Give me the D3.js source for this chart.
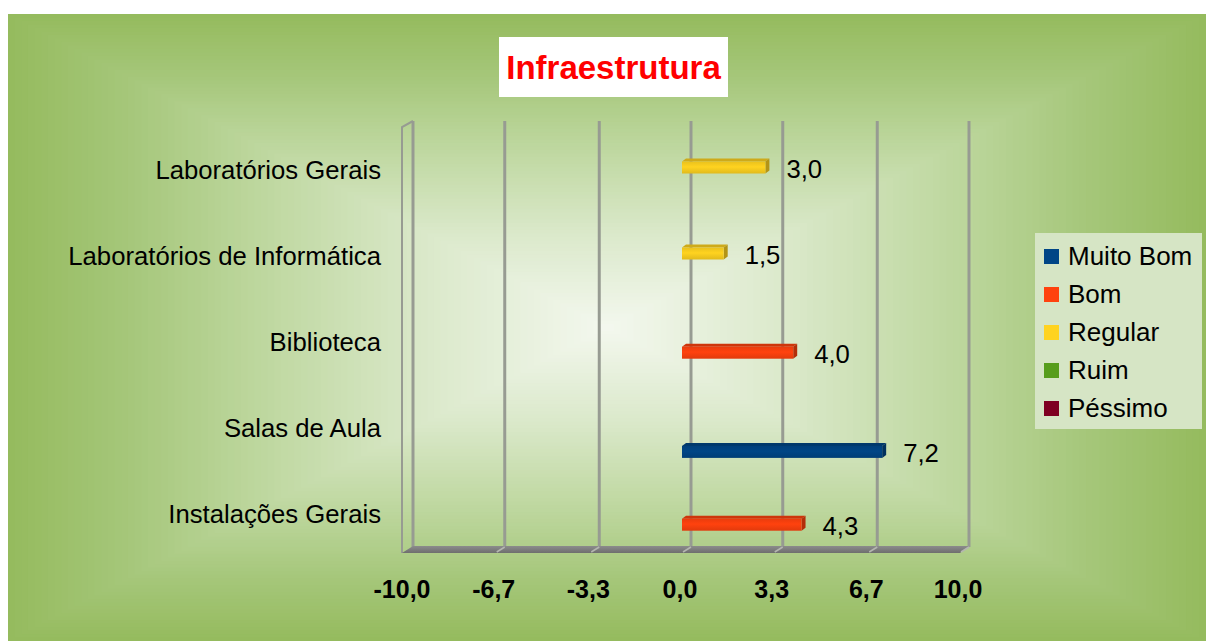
<!DOCTYPE html>
<html>
<head>
<meta charset="utf-8">
<script src="https://cdnjs.cloudflare.com/ajax/libs/d3/7.8.5/d3.min.js"></script>
<style>
  html, body { margin: 0; padding: 0; background: #fff; }
  svg text { font-family: "Liberation Sans", Arial, sans-serif; }
</style>
</head>
<body>
<div id="chart"></div>
<script>

// data
var categories = ['Laboratórios Gerais', 'Laboratórios de Informática', 'Biblioteca', 'Salas de Aula', 'Instalações Gerais'];
var seriesNames = ['Muito Bom', 'Bom', 'Regular', 'Ruim', 'Péssimo'];
var muitoBom = [0, 0, 0, 7.2, 0];
var bom = [0, 0, 4.0, 0, 4.3];
var regular = [3.0, 1.5, 0, 0, 0];
var ruim = [0, 0, 0, 0, 0];
var pessimo = [0, 0, 0, 0, 0];
var xTicks = [-10, -6.7, -3.3, 0, 3.3, 6.7, 10];
var seriesColors = ['#004586', '#ff420e', '#ffd320', '#579d1c', '#7e0021'];
var chartTitle = 'Infraestrutura';

function renderChart(params) {

  var attrs = {
    svgWidth: 1206,
    svgHeight: 641,
    container: 'body'
  };
  Object.keys(attrs).forEach(function (key) {
    if (params && params[key]) attrs[key] = params[key];
  });

  var seriesValues = [muitoBom, bom, regular, ruim, pessimo];

  //calculated properties
  var calc = {};
  calc.bgLeft = 8;
  calc.bgTop = 14;
  calc.plotTop = 121;
  calc.floorBack = 546;
  calc.floorFront = 553;
  calc.depthX = 9;   // 3d offset of the back wall
  calc.barDepth = 4;

  var svg = d3.select(attrs.container).append('svg')
    .attr('width', attrs.svgWidth)
    .attr('height', attrs.svgHeight);

  var defs = svg.append('defs');

  // ---------- background: rectangular gradient done with nested rects
  var bgW = attrs.svgWidth - calc.bgLeft;
  var bgH = attrs.svgHeight - calc.bgTop;
  var cx = calc.bgLeft + bgW / 2;
  var cy = calc.bgTop + bgH / 2;
  var ramp = d3.scaleLinear()
    .domain([0, 0.3, 0.6, 0.8, 1])
    .range(['#f4f8ef', '#dbe9cb', '#bcd69c', '#a6c77b', '#95bb5e'])
    .interpolate(d3.interpolateRgb);
  var steps = d3.range(90, 0, -1).map(function (k) { return k / 90; });
  svg.append('g').attr('class', 'background')
    .selectAll('rect').data(steps).join('rect')
    .attr('x', function (t) { return cx - t * bgW / 2; })
    .attr('y', function (t) { return cy - t * bgH / 2; })
    .attr('width', function (t) { return t * bgW; })
    .attr('height', function (t) { return t * bgH; })
    .attr('fill', function (t) { return ramp(t); });

  // ---------- scales
  var x = d3.scaleLinear().domain([-10, 10]).range([404, 960]);
  var y = d3.scaleBand().domain(categories).range([127, 557]);
  var ySeries = d3.scaleBand().domain(seriesNames.slice().reverse()).range([-37, 29]);

  var chart = svg.append('g').attr('class', 'chart');

  // gridlines on back wall
  chart.append('g').attr('class', 'grid')
    .selectAll('line').data(xTicks).join('line')
    .attr('x1', function (d) { return x(d) + calc.depthX; })
    .attr('x2', function (d) { return x(d) + calc.depthX; })
    .attr('y1', calc.plotTop)
    .attr('y2', calc.floorBack + 1)
    .attr('stroke', '#979b92')
    .attr('stroke-width', 3);

  // left wall edge
  var wallFront = x(-10) - 2;
  chart.append('path')
    .attr('d', 'M' + wallFront + ',' + calc.floorFront + 'V' + (calc.plotTop + 6) +
      'L' + (x(-10) + calc.depthX) + ',' + calc.plotTop)
    .attr('fill', 'none')
    .attr('stroke', '#979b92')
    .attr('stroke-width', 2);

  // floor slab
  var floorGrad = defs.append('linearGradient').attr('id', 'floorGrad')
    .attr('x1', 0).attr('y1', 0).attr('x2', 0).attr('y2', 1);
  floorGrad.append('stop').attr('offset', '0%').attr('stop-color', '#8c8c8c');
  floorGrad.append('stop').attr('offset', '100%').attr('stop-color', '#6e6e6e');
  chart.append('polygon')
    .attr('points', [
      [x(-10) + calc.depthX, calc.floorBack],
      [x(10) + calc.depthX, calc.floorBack],
      [x(10), calc.floorFront],
      [wallFront, calc.floorFront]
    ].map(function (p) { return p.join(','); }).join(' '))
    .attr('fill', 'url(#floorGrad)');

  chart.append('g').attr('class', 'floor-ticks')
    .selectAll('line').data(xTicks.slice(1)).join('line')
    .attr('x1', function (d) { return x(d) + calc.depthX; })
    .attr('x2', function (d) { return x(d) + 1; })
    .attr('y1', calc.floorBack + 1)
    .attr('y2', calc.floorFront - 1)
    .attr('stroke', '#b4b6b0')
    .attr('stroke-width', 1.5);

  // ---------- bars
  var barData = [];
  seriesNames.forEach(function (s, i) {
    seriesValues[i].forEach(function (v, j) {
      if (v > 0) barData.push({ series: s, index: i, category: categories[j], value: v });
    });
  });

  seriesColors.forEach(function (c, i) {
    var g = defs.append('linearGradient').attr('id', 'barGrad' + i)
      .attr('x1', 0).attr('y1', 0).attr('x2', 0).attr('y2', 1);
    g.append('stop').attr('offset', '0%').attr('stop-color', d3.color(c).darker(0.25));
    g.append('stop').attr('offset', '45%').attr('stop-color', c);
    g.append('stop').attr('offset', '100%').attr('stop-color', d3.color(c).darker(0.35));
  });

  function slotCenter(d) {
    return y(d.category) + y.bandwidth() / 2 + ySeries(d.series) + ySeries.bandwidth() / 2;
  }

  var bars = chart.append('g').attr('class', 'bars')
    .selectAll('g').data(barData).join('g');

  bars.append('polygon')
    .attr('points', function (d) {
      var c = slotCenter(d), x0 = x(0), x1 = x(d.value), k = calc.barDepth;
      return [[x0, c - 4.5], [x1, c - 4.5], [x1 + k, c - 7.5], [x0 + k, c - 7.5]].join(' ');
    })
    .attr('fill', function (d) { return d3.color(seriesColors[d.index]).darker(0.6); });

  bars.append('polygon')
    .attr('points', function (d) {
      var c = slotCenter(d), x1 = x(d.value), k = calc.barDepth;
      return [[x1, c - 4.5], [x1 + k, c - 7.5], [x1 + k, c + 4.5], [x1, c + 7.5]].join(' ');
    })
    .attr('fill', function (d) { return d3.color(seriesColors[d.index]).darker(1); });

  bars.append('rect')
    .attr('x', x(0))
    .attr('y', function (d) { return slotCenter(d) - 4.5; })
    .attr('width', function (d) { return x(d.value) - x(0); })
    .attr('height', 12)
    .attr('fill', function (d) { return 'url(#barGrad' + d.index + ')'; });

  // comma decimals and a plain hyphen for negatives
  var locale = d3.formatLocale({ decimal: ',', thousands: '.', grouping: [3], currency: ['', ''], minus: '-' });
  var fmt = locale.format('.1f');

  bars.append('text')
    .attr('x', function (d) { return x(d.value) + 21; })
    .attr('y', function (d) { return slotCenter(d) + 11.5; })
    .attr('font-size', 25.7)
    .attr('fill', '#000')
    .text(function (d) { return fmt(d.value); });

  // ---------- axes labels
  chart.append('g').attr('class', 'y-labels')
    .selectAll('text').data(categories).join('text')
    .attr('x', 381)
    .attr('y', function (d) { return y(d) + y.bandwidth() / 2 + 9; })
    .attr('text-anchor', 'end')
    .attr('font-size', 25.7)
    .text(function (d) { return d; });

  chart.append('g').attr('class', 'x-labels')
    .selectAll('text').data(xTicks).join('text')
    .attr('x', function (d) { return x(d) - 2; })
    .attr('y', 598)
    .attr('text-anchor', 'middle')
    .attr('font-size', 25)
    .attr('font-weight', 'bold')
    .text(function (d) { return fmt(d); });

  // ---------- title
  svg.append('rect')
    .attr('x', 499).attr('y', 37).attr('width', 229).attr('height', 60)
    .attr('fill', '#fff');
  svg.append('text')
    .attr('x', 613.5).attr('y', 79)
    .attr('text-anchor', 'middle')
    .attr('font-size', 33)
    .attr('font-weight', 'bold')
    .attr('fill', '#ff0000')
    .text(chartTitle);

  // ---------- legend
  var legend = svg.append('g').attr('class', 'legend');
  legend.append('rect')
    .attr('x', 1035).attr('y', 233).attr('width', 167).attr('height', 196)
    .attr('fill', '#d6e5c5');
  var items = legend.selectAll('g.item').data(seriesNames).join('g')
    .attr('class', 'item')
    .attr('transform', function (d, i) { return 'translate(1044,' + (256.5 + i * 38) + ')'; });
  items.append('rect')
    .attr('x', 0).attr('y', -7.5).attr('width', 15).attr('height', 15)
    .attr('fill', function (d, i) { return seriesColors[i]; });
  items.append('text')
    .attr('x', 24).attr('y', 8.5)
    .attr('font-size', 26)
    .text(function (d) { return d; });
}

renderChart({ container: '#chart' });
</script>
</body>
</html>
